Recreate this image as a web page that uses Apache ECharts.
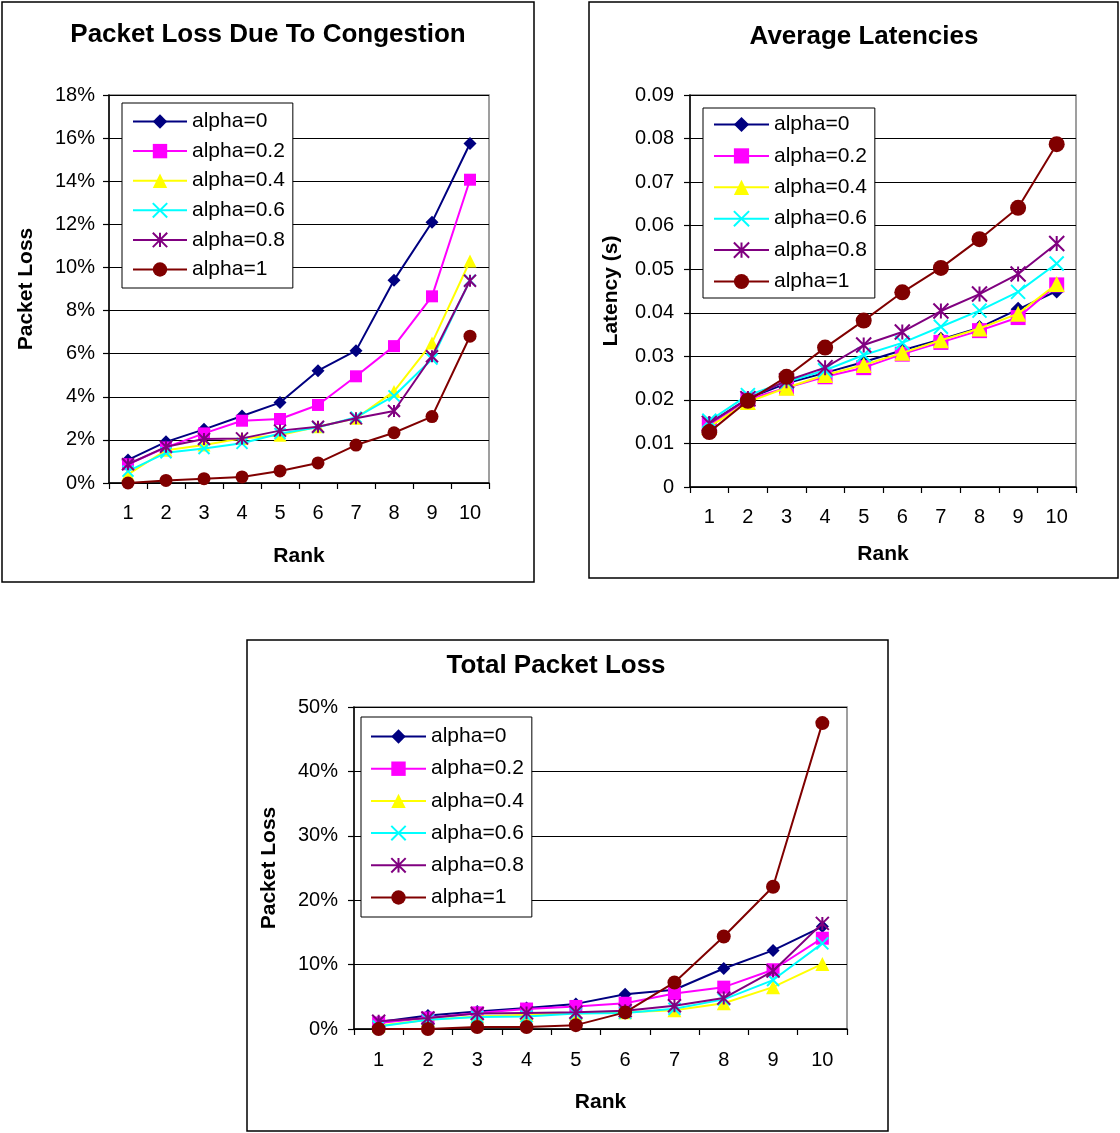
<!DOCTYPE html>
<html>
<head>
<meta charset="utf-8">
<script src="https://cdn.jsdelivr.net/npm/echarts@6/dist/echarts.min.js"></script>
<style>
html,body{margin:0;padding:0;background:#fff;}
#chart{width:1120px;height:1133px;}
</style>
</head>
<body>
<div id="chart"></div>
<script>
// ---------- data ----------
const ranks = ['1','2','3','4','5','6','7','8','9','10'];
const seriesNames = ['alpha=0','alpha=0.2','alpha=0.4','alpha=0.6','alpha=0.8','alpha=1'];

// Packet Loss Due To Congestion (%)
const congA0  = [1.07, 1.91, 2.49, 3.11, 3.73, 5.21, 6.14, 9.41, 12.1, 15.75];
const congA02 = [0.87, 1.65, 2.30, 2.89, 2.97, 3.62, 4.95, 6.35, 8.66, 14.07];
const congA04 = [0.40, 1.52, 1.76, 2.07, 2.22, 2.61, 3.00, 4.25, 6.50, 10.30];
const congA06 = [0.55, 1.40, 1.60, 1.84, 2.30, 2.58, 3.05, 4.04, 5.75, 9.40];
const congA08 = [0.87, 1.68, 2.04, 2.07, 2.43, 2.61, 3.00, 3.34, 5.88, 9.38];
const congA1  = [0.00, 0.12, 0.20, 0.28, 0.56, 0.93, 1.76, 2.33, 3.08, 6.81];

// Average Latencies (s)
const latA0  = [0.0146, 0.0203, 0.0238, 0.0262, 0.0287, 0.0314, 0.0339, 0.0366, 0.0408, 0.0450];
const latA02 = [0.0142, 0.0201, 0.0228, 0.0253, 0.0274, 0.0305, 0.0332, 0.0359, 0.0389, 0.0464];
const latA04 = [0.0138, 0.0195, 0.0228, 0.0257, 0.0280, 0.0308, 0.0337, 0.0364, 0.0398, 0.0466];
const latA06 = [0.0152, 0.0211, 0.0241, 0.0268, 0.0303, 0.0331, 0.0368, 0.0405, 0.0448, 0.0513];
const latA08 = [0.0146, 0.0203, 0.0244, 0.0274, 0.0326, 0.0356, 0.0404, 0.0443, 0.0489, 0.0559];
const latA1  = [0.0126, 0.0198, 0.0253, 0.0320, 0.0382, 0.0447, 0.0503, 0.0569, 0.0641, 0.0787];

// Total Packet Loss (%)
const totA0  = [1.08, 2.10, 2.70, 3.25, 3.90, 5.40, 6.10, 9.40, 12.2, 15.9];
const totA02 = [0.93, 1.70, 2.50, 3.10, 3.50, 4.00, 5.50, 6.50, 9.20, 14.1];
const totA04 = [0.50, 1.45, 1.96, 2.20, 2.40, 2.60, 2.90, 4.00, 6.50, 10.1];
const totA06 = [0.40, 1.45, 1.86, 1.96, 2.40, 2.50, 3.15, 4.60, 7.60, 13.3];
const totA08 = [1.20, 1.70, 2.40, 2.50, 2.60, 2.85, 3.60, 4.80, 9.00, 16.4];
const totA1  = [0.00, 0.00, 0.30, 0.30, 0.60, 2.58, 7.23, 14.36, 22.1, 47.5];

// ---------- styling ----------
const FONT = "'Liberation Sans', Arial, sans-serif";
const TITLE_FONT = "bold 26px 'Liberation Sans', Arial, sans-serif";
const colors = ['#000080', '#FF00FF', '#FFFF00', '#00FFFF', '#800080', '#800000'];
const xSym = 'path://M0,0L10,10M0,10L10,0';
const starSym = 'path://M0,0L10,10M0,10L10,0M5,0L5,10';
const symbols = ['diamond', 'rect', 'triangle', xSym, starSym, 'circle'];
const sizes1 = [13, 12, 13, 11, 12, 13];
const sizes2 = [15, 15, 16, 14, 15, 16];
const sizes3 = [13, 13, 14, 12, 13, 14];

const grids = [
  {left: 109, top: 95, width: 380, height: 388},
  {left: 690, top: 95, width: 386, height: 392},
  {left: 354, top: 707, width: 493, height: 322}
];

function makeX(i, nameGap, margin) {
  return {
    type: 'category', gridIndex: i, data: ranks, boundaryGap: true,
    axisLine: {show: true, lineStyle: {color: '#000', width: 1.5}},
    axisTick: {show: true, length: 6, lineStyle: {color: '#000', width: 1.2}},
    axisLabel: {fontSize: 20, color: '#000', fontFamily: FONT, margin: margin},
    splitLine: {show: false},
    name: 'Rank', nameLocation: 'middle', nameGap: nameGap,
    nameTextStyle: {fontSize: 21, fontWeight: 'bold', color: '#000', fontFamily: FONT}
  };
}
function makeY(i, max, interval, fmt, name, nameGap, margin) {
  return {
    type: 'value', gridIndex: i, min: 0, max: max, interval: interval,
    axisLine: {show: true, lineStyle: {color: '#000', width: 1.5}},
    axisTick: {show: true, length: 6, lineStyle: {color: '#000', width: 1.2}},
    axisLabel: {fontSize: 20, color: '#000', fontFamily: FONT, margin: margin, formatter: fmt},
    splitLine: {show: true, lineStyle: {color: '#000', width: 1}},
    name: name, nameLocation: 'middle', nameGap: nameGap, nameRotate: 90,
    nameTextStyle: {fontSize: 21, fontWeight: 'bold', color: '#000', fontFamily: FONT}
  };
}

function makeSeries(gi, datasets, sizes) {
  return datasets.map((d, k) => ({
    type: 'line', name: seriesNames[k], xAxisIndex: gi, yAxisIndex: gi,
    data: d, symbol: symbols[k], symbolSize: sizes[k], showAllSymbol: true,
    lineStyle: {color: colors[k], width: 2},
    itemStyle: {color: colors[k], borderColor: colors[k], borderWidth: (k === 3 || k === 4) ? 2 : 0},
    emphasis: {disabled: true}, z: 2 + k * 0.01
  }));
}

function makeLegend(left, top, itemWidth, itemHeight, itemGap, padding) {
  return {
    orient: 'vertical', left: left, top: top, data: seriesNames,
    itemWidth: itemWidth, itemHeight: itemHeight, itemGap: itemGap, padding: padding,
    borderColor: '#000', borderWidth: 1, backgroundColor: '#fff',
    textStyle: {fontSize: 21, color: '#000', fontFamily: FONT},
    selectedMode: false
  };
}

const option = {
  animation: false,
  backgroundColor: '#fff',
  textStyle: {fontFamily: FONT},
  grid: grids.map(g => Object.assign({show: true, borderColor: '#808080', borderWidth: 1.5, backgroundColor: 'transparent'}, g)),
  xAxis: [makeX(0, 63, 20), makeX(1, 57, 20), makeX(2, 63, 21)],
  yAxis: [
    makeY(0, 18, 2, '{value}%', 'Packet Loss', 72, 14),
    makeY(1, 0.09, 0.01, v => v === 0 ? '0' : v.toFixed(2), 'Latency (s)', 68, 16),
    makeY(2, 50, 10, '{value}%', 'Packet Loss', 74, 16)
  ],
  legend: [
    makeLegend(122, 103, 54, 18, 8.6, [8, 8, 8, 10]),
    makeLegend(703, 108, 55, 19, 10.4, [6, 8, 6, 10]),
    makeLegend(361, 717, 55, 18, 11.2, [9, 8, 9, 9])
  ],
  series: [].concat(
    makeSeries(0, [congA0, congA02, congA04, congA06, congA08, congA1], sizes1),
    makeSeries(1, [latA0, latA02, latA04, latA06, latA08, latA1], sizes2),
    makeSeries(2, [totA0, totA02, totA04, totA06, totA08, totA1], sizes3)
  ),
  graphic: [
    {type: 'rect', silent: true, z: 100, shape: {x: 2, y: 2, width: 532, height: 580}, style: {fill: 'transparent', stroke: '#000', lineWidth: 1.5}},
    {type: 'rect', silent: true, z: 100, shape: {x: 589, y: 2, width: 529, height: 576}, style: {fill: 'transparent', stroke: '#000', lineWidth: 1.5}},
    {type: 'rect', silent: true, z: 100, shape: {x: 247, y: 640, width: 641, height: 491}, style: {fill: 'transparent', stroke: '#000', lineWidth: 1.5}},
    {type: 'text', silent: true, z: 100, style: {text: 'Packet Loss Due To Congestion', x: 268, y: 35, textAlign: 'center', textVerticalAlign: 'middle', font: TITLE_FONT, fill: '#000'}},
    {type: 'text', silent: true, z: 100, style: {text: 'Average Latencies', x: 864, y: 37, textAlign: 'center', textVerticalAlign: 'middle', font: TITLE_FONT, fill: '#000'}},
    {type: 'text', silent: true, z: 100, style: {text: 'Total Packet Loss', x: 556, y: 666, textAlign: 'center', textVerticalAlign: 'middle', font: TITLE_FONT, fill: '#000'}}
  ]
};

const chart = echarts.init(document.getElementById('chart'), null, {renderer: 'canvas'});
chart.setOption(option);
</script>
</body>
</html>
